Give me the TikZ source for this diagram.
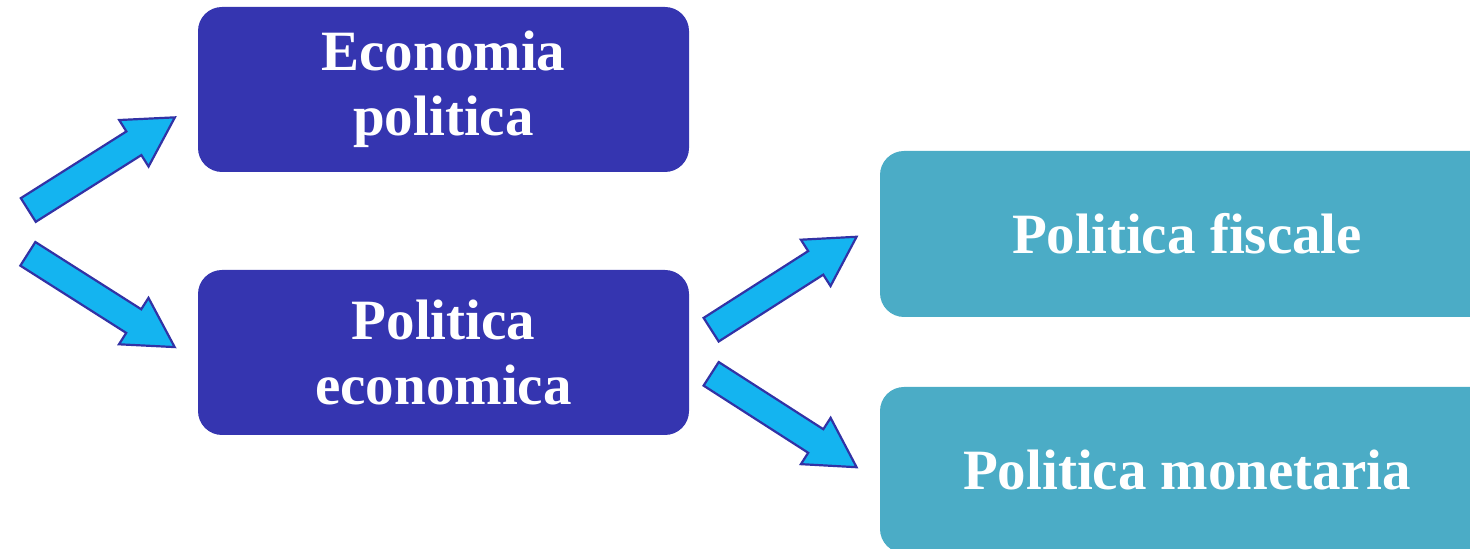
\documentclass[tikz,border=0pt]{standalone}
\usepackage{fontspec}
\setmainfont{Liberation Serif}
\usetikzlibrary{calc}
\definecolor{darkbox}{RGB}{53,53,176}
\definecolor{lightbox}{RGB}{75,172,198}
\definecolor{arrowfill}{RGB}{20,180,240}
\definecolor{arrowline}{RGB}{50,50,165}
\tikzset{
  box/.style={rounded corners=12pt, minimum width=245.5pt, minimum height=82.5pt,
    inner sep=0pt, outer sep=0pt, text=white, align=center,
    font=\fontsize{28.5}{32.5}\selectfont\bfseries},
  darkb/.style={box, fill=darkbox},
  lightb/.style={box, fill=lightbox, minimum width=307pt, minimum height=83pt},
  blockarrow/.style={fill=arrowfill, draw=arrowline, line width=1.1pt, line join=miter}
}
\newcommand{\blockarr}[2]{%
  \path let \p1=($(#2)-(#1)$), \n1={atan2(\y1,\x1)}, \n2={veclen(\x1,\y1)} in
    \pgfextra{\xdef\barang{\n1}\xdef\barlen{\n2}};
  \begin{scope}[shift={(#1)}, rotate=\barang]
    \draw[blockarrow] (0pt,-7pt) -- (\barlen-24.25pt,-7pt) -- (\barlen-24.25pt,-13.75pt)
      -- (\barlen,0pt) -- (\barlen-24.25pt,13.75pt) -- (\barlen-24.25pt,7pt)
      -- (0pt,7pt) -- cycle;
  \end{scope}}
\begin{document}
\begin{tikzpicture}[x=0.5pt,y=0.5pt]
\useasboundingbox (0,0) rectangle (1470,549);
\clip (0,0) rectangle (1470,549);
\node[darkb] (ep) at (443.5,459.5) {Economia\\politica};
\node[darkb] (pe) at (443.5,196.5) {Politica\\economica};
\node[lightb] (pf) at (1187,315) {Politica fiscale};
\node[lightb] (pm) at (1187,79) {Politica monetaria};
\coordinate (t1) at (28.3,339);   \coordinate (h1) at (175,431.7);
\coordinate (t2) at (27.85,295.15); \coordinate (h2) at (175,201.7);
\coordinate (t3) at (711.15,219.3); \coordinate (h3) at (856.7,312.3);
\coordinate (t4) at (711.15,175.15); \coordinate (h4) at (856.7,81.7);
\blockarr{t1}{h1}
\blockarr{t2}{h2}
\blockarr{t3}{h3}
\blockarr{t4}{h4}
\end{tikzpicture}
\end{document}
